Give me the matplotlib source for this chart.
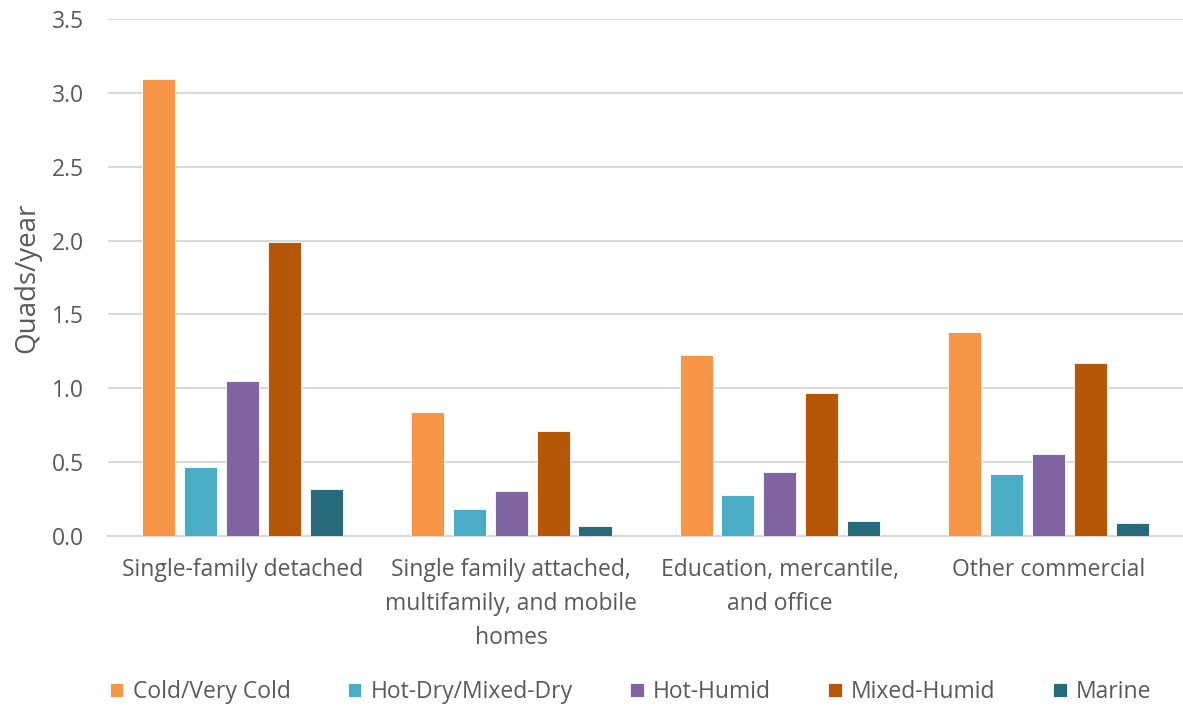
import matplotlib
matplotlib.use("Agg")
import matplotlib.pyplot as plt
import numpy as np

categories = ["Single-family detached",
              "Single family attached,\nmultifamily, and mobile\nhomes",
              "Education, mercantile,\nand office",
              "Other commercial"]
series_names = ["Cold/Very Cold", "Hot-Dry/Mixed-Dry", "Hot-Humid",
                "Mixed-Humid", "Marine"]
cold = [3.095, 0.837, 1.224, 1.383]
hot_dry = [0.47, 0.184, 0.281, 0.42]
hot_humid = [1.052, 0.308, 0.433, 0.556]
mixed_humid = [1.99, 0.714, 0.966, 1.168]
marine = [0.315, 0.066, 0.10, 0.091]
yticks = [0.0, 0.5, 1.0, 1.5, 2.0, 2.5, 3.0, 3.5]

colors = ["#F79646", "#4BACC6", "#8064A2", "#B65708", "#276A7C"]
text_col = "#595959"
grid_col = "#D9D9D9"

plt.rcParams['font.family'] = ['Open Sans', 'DejaVu Sans']

fig = plt.figure(figsize=(11.83, 7.08), dpi=100)
ax = fig.add_axes([0.0913, 0.2429, 0.9087, 0.7303])

x = np.arange(len(categories))
step = 0.156
width = 0.123
all_series = [cold, hot_dry, hot_humid, mixed_humid, marine]
for i, vals in enumerate(all_series):
    ax.bar(x + (i - 2) * step, vals, width, color=colors[i],
           edgecolor="white", linewidth=0.6, label=series_names[i], zorder=3)

ax.set_xlim(-0.5, len(categories) - 0.5)
ax.set_ylim(0, 3.5)
ax.set_yticks(yticks)
ax.set_yticklabels(["%.1f" % v for v in yticks])
ax.set_xticks(x)
ax.set_xticklabels(categories, linespacing=1.55)
ax.yaxis.grid(True, color=grid_col, linewidth=1.5, zorder=0)
ax.tick_params(axis="y", length=0, pad=17, labelsize=16.5, labelcolor=text_col)
ax.tick_params(axis="x", length=0, pad=16, labelsize=16.5, labelcolor=text_col)
for s in ["top", "right", "left"]:
    ax.spines[s].set_visible(False)
ax.spines["bottom"].set_color(grid_col)
ax.spines["bottom"].set_linewidth(1.5)
ax.set_ylabel("Quads/year", fontsize=20, color=text_col, labelpad=8)

fig.legend(loc="center", bbox_to_anchor=(0.533, 1 - 692 / 708), ncol=5,
           frameon=False, fontsize=16.5, labelcolor=text_col,
           handlelength=0.6, handleheight=0.6, handletextpad=0.4,
           columnspacing=2.5)

fig.savefig("out.png", dpi=100)
